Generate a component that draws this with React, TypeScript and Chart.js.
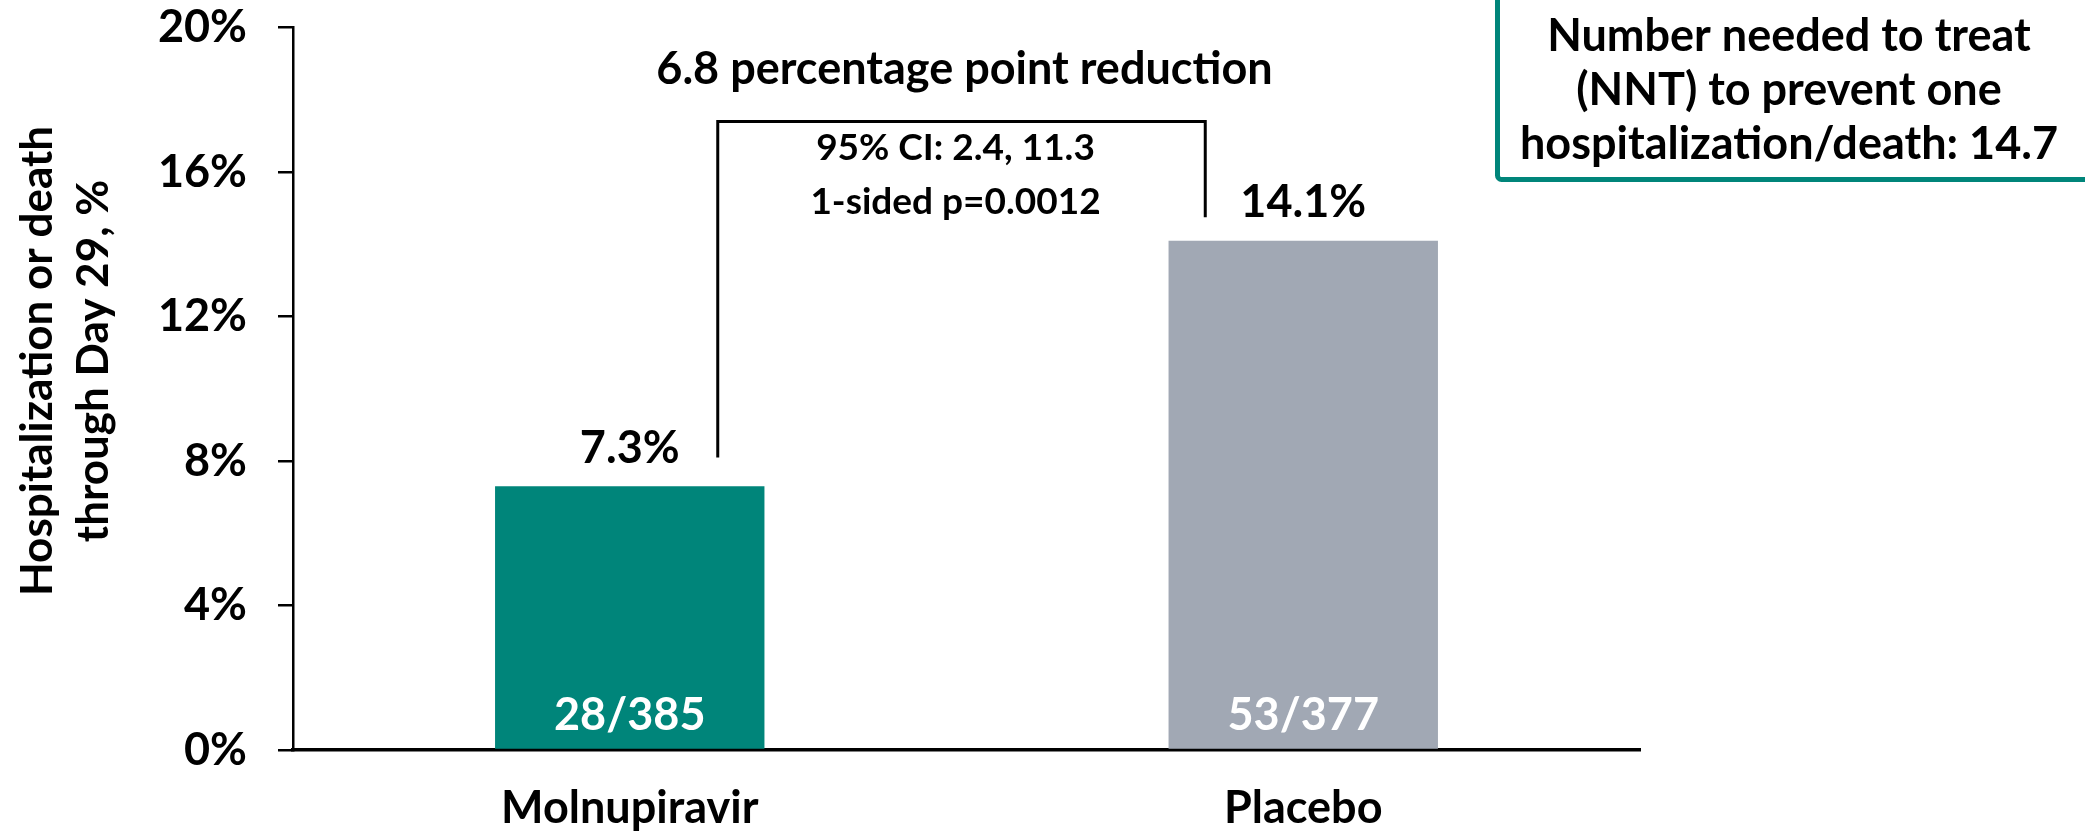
import { useEffect, useRef } from "react";
import { Chart, registerables } from "chart.js";

Chart.register(...registerables);

// ---- data ----
const categories = ["Molnupiravir", "Placebo"];
const rates = [7.3, 14.1];
const rateLabels = ["7.3%", "14.1%"];
const fractionLabels = ["28/385", "53/377"];
const barColors = ["#00857A", "#A1A8B4"];
const yMin = 0;
const yMax = 20;
const yStep = 4;
const yTitleLines = ["Hospitalization or death", "through Day 29, %"];
const reductionTitle = "6.8 percentage point reduction";
const statsLines = ["95% CI: 2.4, 11.3", "1-sided p=0.0012"];
const nntLines = [
  "Number needed to treat",
  "(NNT) to prevent one",
  "hospitalization/death: 14.7",
];

const FONT = "Lato, 'Liberation Sans', sans-serif";
const TEAL = "#00857A";

const annotationPlugin = {
  id: "annotations",
  afterDraw(chart: any) {
    const ctx = chart.ctx as CanvasRenderingContext2D;
    const y = chart.scales.y;
    const meta = chart.getDatasetMeta(0);
    const base = y.getPixelForValue(0);
    ctx.save();
    ctx.textAlign = "center";
    ctx.textBaseline = "middle";

    // bar value labels and counts
    meta.data.forEach((el: any, i: number) => {
      ctx.fillStyle = "#000";
      ctx.font = `bold 45px ${FONT}`;
      ctx.fillText(rateLabels[i], el.x, el.y - 38);
      ctx.fillStyle = "#fff";
      ctx.fillText(fractionLabels[i], el.x, base - 35);
    });

    // bracket
    const lx = meta.data[0].x + 88;
    const rx = meta.data[1].x - 98;
    const top = y.getPixelForValue(17.4);
    const lBottom = y.getPixelForValue(8.1);
    const rBottom = y.getPixelForValue(14.75);
    ctx.strokeStyle = "#000";
    ctx.lineWidth = 3;
    ctx.lineJoin = "miter";
    ctx.beginPath();
    ctx.moveTo(lx, lBottom);
    ctx.lineTo(lx, top);
    ctx.lineTo(rx, top);
    ctx.lineTo(rx, rBottom);
    ctx.stroke();

    const mid = (lx + rx) / 2;
    ctx.fillStyle = "#000";
    ctx.font = `bold 45px ${FONT}`;
    ctx.fillText(reductionTitle, mid + 3, top - 52);
    ctx.font = `bold 37px ${FONT}`;
    statsLines.forEach((s, i) => {
      ctx.fillText(s, mid - 6, top + 27 + i * 54);
    });

    // y axis title
    ctx.font = `bold 44px ${FONT}`;
    const cy = 361;
    yTitleLines.forEach((s, i) => {
      ctx.save();
      ctx.translate(38 + i * 56, cy);
      ctx.rotate(-Math.PI / 2);
      ctx.fillText(s, 0, 0);
      ctx.restore();
    });

    // NNT box
    ctx.lineWidth = 5;
    ctx.strokeStyle = TEAL;
    ctx.beginPath();
    (ctx as any).roundRect(1497.5, -20, 1581, 199.5, 4);
    ctx.stroke();
    ctx.fillStyle = "#000";
    ctx.font = `bold 45px ${FONT}`;
    nntLines.forEach((s, i) => {
      ctx.fillText(s, 1789, 36 + i * 54);
    });
    ctx.restore();
  },
};

export default function App() {
  const ref = useRef<HTMLCanvasElement | null>(null);
  useEffect(() => {
    document.body.style.margin = "0";
    const canvas = ref.current!;
    const chart = new Chart(canvas, {
      type: "bar",
      data: {
        labels: categories,
        datasets: [
          {
            data: rates,
            backgroundColor: barColors,
            borderWidth: 0,
            barPercentage: 0.4,
            categoryPercentage: 1,
          },
        ],
      },
      options: {
        responsive: false,
        animation: false,
        devicePixelRatio: 1,
        layout: { padding: { top: 0, right: 445, left: 0, bottom: 0 } },
        plugins: {
          legend: { display: false },
          tooltip: { enabled: false },
          title: { display: false },
        },
        scales: {
          x: {
            grid: { display: false, drawTicks: false, tickLength: 0 },
            border: { display: true, color: "#000", width: 3.5 },
            ticks: {
              color: "#000",
              padding: 31,
              font: { family: FONT, size: 45, weight: "bold", lineHeight: 1.2 },
            },
            afterFit: (s: any) => {
              s.height = 84;
              s.paddingLeft = 0;
              s.paddingRight = 0;
            },
          },
          y: {
            min: yMin,
            max: yMax,
            grid: {
              display: true,
              drawOnChartArea: false,
              drawTicks: true,
              tickLength: 15,
              color: "#000",
              lineWidth: 2.5,
            },
            border: { display: true, color: "#000", width: 2.5 },
            ticks: {
              stepSize: yStep,
              color: "#000",
              padding: 31,
              font: { family: FONT, size: 45, weight: "bold", lineHeight: 1.2 },
              callback: (v: any) => `${v}%`,
            },
            afterFit: (s: any) => {
              s.width = 293;
              s.paddingTop = 27.5;
              s.paddingBottom = 0;
            },
          },
        },
      },
      plugins: [annotationPlugin],
    });
    return () => chart.destroy();
  }, []);
  return (
    <canvas
      ref={ref}
      width={2085}
      height={834}
      style={{ display: "block", width: 2085, height: 834 }}
    />
  );
}
